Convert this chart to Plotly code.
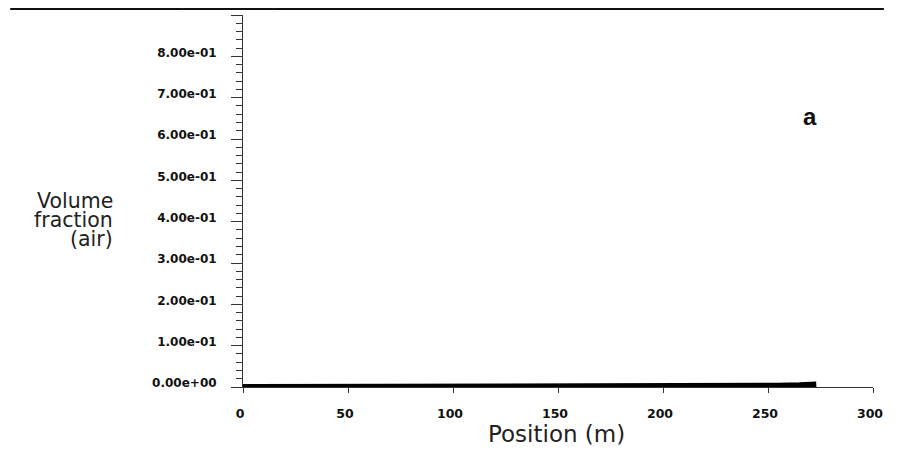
import plotly.graph_objects as go

# Data
position_m = [0, 25, 50, 75, 100, 125, 150, 175, 200, 225, 233, 245, 255, 265, 270, 273]
air_fraction = [0.0, 0.0, 0.0, 0.0, 0.0, 0.0, 0.0, 0.0, 0.0, 0.001, 0.002, 0.003, 0.003, 0.004, 0.005, 0.006]

y_tick_vals = [0.0, 0.1, 0.2, 0.3, 0.4, 0.5, 0.6, 0.7, 0.8, 0.9]
y_tick_text = ["0.00e+00", "1.00e-01", "2.00e-01", "3.00e-01", "4.00e-01",
               "5.00e-01", "6.00e-01", "7.00e-01", "8.00e-01", "9.00e-01"]
x_tick_vals = [0, 50, 100, 150, 200, 250, 300]
x_tick_text = ["0", "50", "100", "150", "200", "250", "300"]

# Page has an 8px body margin; figure sized so the page is exactly 898x455.
OFF = 8
W, H = 898 - 2 * OFF, 455 - 2 * OFF
# plot area on screen: x 243..879, y 15..387
L = 243 - OFF
T = 15 - OFF
R = W - (879 - OFF)
B = H - (387 - OFF)
pw, ph = W - L - R, H - T - B

def px(sx):
    return (sx - OFF - L) / pw

def py(sy):
    return (H - B - (sy - OFF)) / ph

fig = go.Figure()
fig.add_trace(go.Scatter(x=position_m, y=air_fraction, mode="lines",
                         line=dict(color="black", width=6), hoverinfo="skip",
                         showlegend=False))

fig.update_layout(
    width=W, height=H, autosize=False,
    margin=dict(l=L, r=R, t=T, b=B, pad=0),
    paper_bgcolor="white", plot_bgcolor="white",
    showlegend=False,
    xaxis=dict(range=[0, 300], tickvals=x_tick_vals, ticktext=x_tick_text,
               showgrid=False, zeroline=False, showline=True, linecolor="#333",
               linewidth=1, ticks="outside", ticklen=5, tickcolor="#333",
               tickfont=dict(family="DejaVu Sans", size=12.5, color="#111", weight="bold"),
               ticklabelstandoff=10, ticklabelshift=-3, fixedrange=True),
    yaxis=dict(range=[0, 0.9], tickvals=y_tick_vals, ticktext=y_tick_text,
               showgrid=False, zeroline=False, showline=True, linecolor="#333",
               linewidth=1, ticks="outside", ticklen=11, tickcolor="#333",
               tickfont=dict(family="DejaVu Sans", size=12, color="#111", weight="bold"),
               ticklabelstandoff=12, ticklabelshift=-4, fixedrange=True,
               minor=dict(dtick=0.02, ticks="outside", ticklen=6,
                          tickcolor="#333", showgrid=False)),
)

label_font = dict(family="DejaVu Sans", size=20.5, color="#222")
for text, yc in [("Volume", 201), ("fraction", 220), ("(air)", 239)]:
    fig.add_annotation(text=text, xref="paper", yref="paper",
                       x=px(114), y=py(yc), xanchor="right", yanchor="middle",
                       showarrow=False, font=label_font)

fig.add_annotation(text="Position (m)", xref="paper", yref="paper",
                   x=px(559), y=py(434), xanchor="center", yanchor="middle",
                   showarrow=False,
                   font=dict(family="DejaVu Sans", size=23, color="#222"))

fig.add_annotation(text="<b>a</b>", xref="paper", yref="paper",
                   x=px(815), y=py(116), xanchor="center", yanchor="middle",
                   showarrow=False,
                   font=dict(family="Liberation Sans", size=24, color="#111"))

# Top rule and small marks above it
fig.add_shape(type="line", xref="paper", yref="paper",
              x0=px(OFF), x1=px(898 - OFF), y0=py(9), y1=py(9),
              line=dict(color="#111", width=2))
for mx in [182, 274]:
    fig.add_shape(type="line", xref="paper", yref="paper",
                  x0=px(mx), x1=px(mx), y0=py(9), y1=py(OFF),
                  line=dict(color="#333", width=1))

fig.write_html("out.html", config={"displayModeBar": False})
